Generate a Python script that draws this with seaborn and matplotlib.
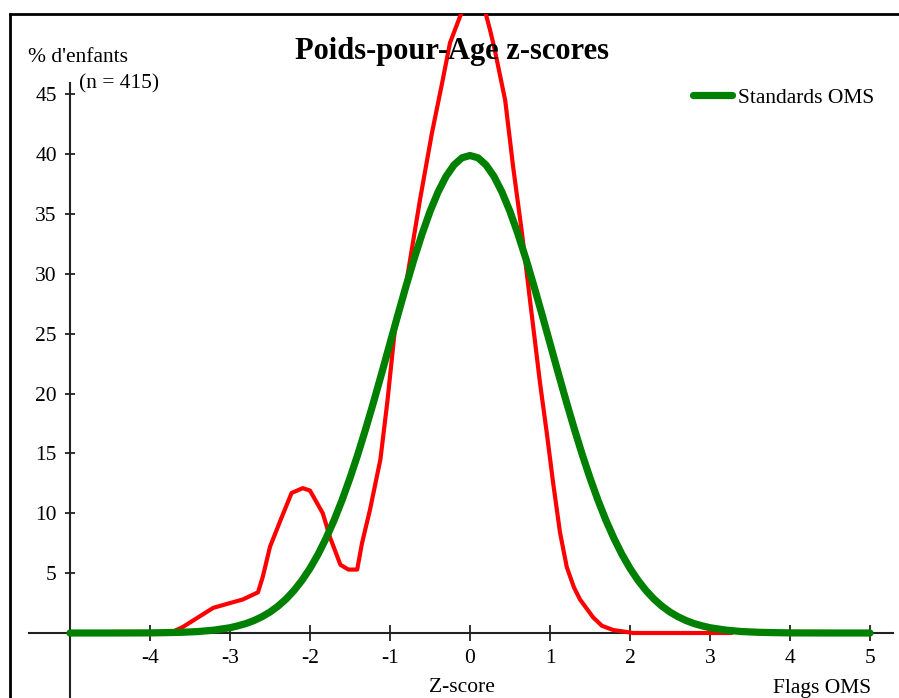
import numpy as np
import pandas as pd
import seaborn as sns
import matplotlib.pyplot as plt
from matplotlib.lines import Line2D

# red curve: sample distribution (% of children by z-score)
red_x = [-3.75, -3.59, -3.4, -3.21, -3.0, -2.84, -2.65, -2.59, -2.5, -2.37, -2.23, -2.09,
         -2.0, -1.84, -1.75, -1.62, -1.52, -1.41, -1.35, -1.25, -1.12, -1.03, -0.94, -0.81,
         -0.625, -0.475, -0.35, -0.25, -0.125, -0.05, 0.0, 0.06, 0.12, 0.19, 0.25, 0.31, 0.44, 0.54,
         0.65, 0.75, 0.875, 0.96, 1.04, 1.125, 1.21, 1.3, 1.375, 1.54, 1.65, 1.79, 2.04, 2.5, 3.0, 3.27]
red_y = [0.0, 0.5, 1.3, 2.1, 2.5, 2.8, 3.4, 4.7, 7.2, 9.4, 11.7, 12.1,
         11.9, 10.0, 8.0, 5.7, 5.3, 5.3, 7.5, 10.3, 14.5, 19.5, 25.3, 28.7,
         36.2, 41.8, 45.9, 49.3, 51.5, 52.6, 53.2, 53.5, 53.2, 51.9, 50.4, 48.7, 44.5, 38.9,
         33.4, 27.8, 20.9, 16.7, 12.5, 8.4, 5.5, 3.8, 2.8, 1.3, 0.6, 0.25, 0.0, 0.0, 0.0, 0.0]

# green curve: WHO standards
green_x = [-5.0, -4.5, -4.0, -3.8, -3.6, -3.4, -3.2,
           -3.0, -2.9, -2.8, -2.7, -2.6, -2.5, -2.4, -2.3, -2.2, -2.1,
           -2.0, -1.9, -1.8, -1.7, -1.6, -1.5, -1.4, -1.3, -1.2, -1.1,
           -1.0, -0.9, -0.8, -0.7, -0.6, -0.5, -0.4, -0.3, -0.2, -0.1,
           0.0, 0.1, 0.2, 0.3, 0.4, 0.5, 0.6, 0.7, 0.8, 0.9,
           1.0, 1.1, 1.2, 1.3, 1.4, 1.5, 1.6, 1.7, 1.8, 1.9,
           2.0, 2.1, 2.2, 2.3, 2.4, 2.5, 2.6, 2.7, 2.8, 2.9,
           3.0, 3.2, 3.4, 3.6, 3.8, 4.0, 4.5, 5.0]
green_y = [0.0, 0.0, 0.01, 0.03, 0.06, 0.12, 0.24,
           0.44, 0.60, 0.79, 1.04, 1.36, 1.75, 2.24, 2.83, 3.55, 4.40,
           5.40, 6.56, 7.90, 9.40, 11.09, 12.95, 14.97, 17.14, 19.42, 21.79,
           24.20, 26.61, 28.97, 31.23, 33.32, 35.21, 36.83, 38.14, 39.10, 39.70,
           39.89, 39.70, 39.10, 38.14, 36.83, 35.21, 33.32, 31.23, 28.97, 26.61,
           24.20, 21.79, 19.42, 17.14, 14.97, 12.95, 11.09, 9.40, 7.90, 6.56,
           5.40, 4.40, 3.55, 2.83, 2.24, 1.75, 1.36, 1.04, 0.79, 0.60,
           0.44, 0.24, 0.12, 0.06, 0.03, 0.01, 0.0, 0.0]

x_ticks = [-4, -3, -2, -1, 0, 1, 2, 3, 4, 5]
y_ticks = [5, 10, 15, 20, 25, 30, 35, 40, 45]

W, H = 899, 698
sns.set_theme(style="white")
plt.rcParams["font.family"] = ["Liberation Serif", "DejaVu Serif"]
plt.rcParams["text.color"] = "black"
plt.rcParams["xtick.color"] = "black"
plt.rcParams["ytick.color"] = "black"

fig = plt.figure(figsize=(W / 100, H / 100), dpi=100)
# pixel -> figure fraction
fx = lambda px: px / W
fy = lambda py: 1 - py / H

ax = fig.add_axes([fx(10), 0, fx(899) - fx(10), fy(14)])
ax.set_xlim((10 - 470) / 80, (899 - 470) / 80)
ax.set_ylim((633 - 698) / 11.97, (633 - 14) / 11.97)

red_df = pd.DataFrame({"z": red_x, "pct": red_y})
green_df = pd.DataFrame({"z": green_x, "pct": green_y})
sns.lineplot(data=red_df, x="z", y="pct", color="#ff0000", lw=3, ax=ax, legend=False,
             sort=False, zorder=3)
sns.lineplot(data=green_df, x="z", y="pct", color="#008000", lw=5.2, ax=ax,
             label="Standards OMS", sort=False, zorder=4)

# axes lines
ax.spines["right"].set_visible(False)
ax.spines["top"].set_color("black")
ax.spines["top"].set_linewidth(2)
for s in ["left", "bottom"]:
    ax.spines[s].set_color("#222222")
    ax.spines[s].set_linewidth(1.5)
ax.spines["left"].set_position(("data", -5))
ax.spines["bottom"].set_position(("data", 0))
ax.spines["left"].set_bounds(ax.get_ylim()[0], (633 - 83) / 11.97)
ax.spines["bottom"].set_bounds((29 - 470) / 80, (893 - 470) / 80)
fig.add_artist(Line2D([fx(10), fx(10)], [0, fy(14)], color="black", lw=2,
                      transform=fig.transFigure))

ax.set_xticks(x_ticks)
ax.set_yticks(y_ticks)
ax.set_xticklabels([str(t) for t in x_ticks])
ax.set_yticklabels([str(t) for t in y_ticks])
ax.tick_params(axis="x", direction="inout", length=11, width=1.3, color="#222222",
               labelsize=15.5, labelcolor="black", pad=6, bottom=True)
ax.tick_params(axis="y", direction="inout", length=7, width=1.3, color="#222222",
               labelsize=15.5, labelcolor="black", pad=6, left=True)
ax.set_xlabel("")
ax.set_ylabel("")

# text
fig.text(fx(452), fy(52), "Poids-pour-Age z-scores", ha="center", va="center",
         fontsize=22, fontweight="bold", color="black")
fig.text(fx(28), fy(58), "% d'enfants", ha="left", va="center", fontsize=15.5)
fig.text(fx(79), fy(84), "(n = 415)", ha="left", va="center", fontsize=15.5)
fig.text(fx(462), fy(687), "Z-score", ha="center", va="center", fontsize=15.5)
fig.text(fx(871), fy(688), "Flags OMS", ha="right", va="center", fontsize=15.5)

ax.legend(loc="center left", bbox_to_anchor=(fx(693), fy(98)), bbox_transform=fig.transFigure,
          frameon=False, fontsize=15.5, handlelength=1.8, handletextpad=0.3,
          borderpad=0, borderaxespad=0)

fig.savefig("out.png", dpi=100)
